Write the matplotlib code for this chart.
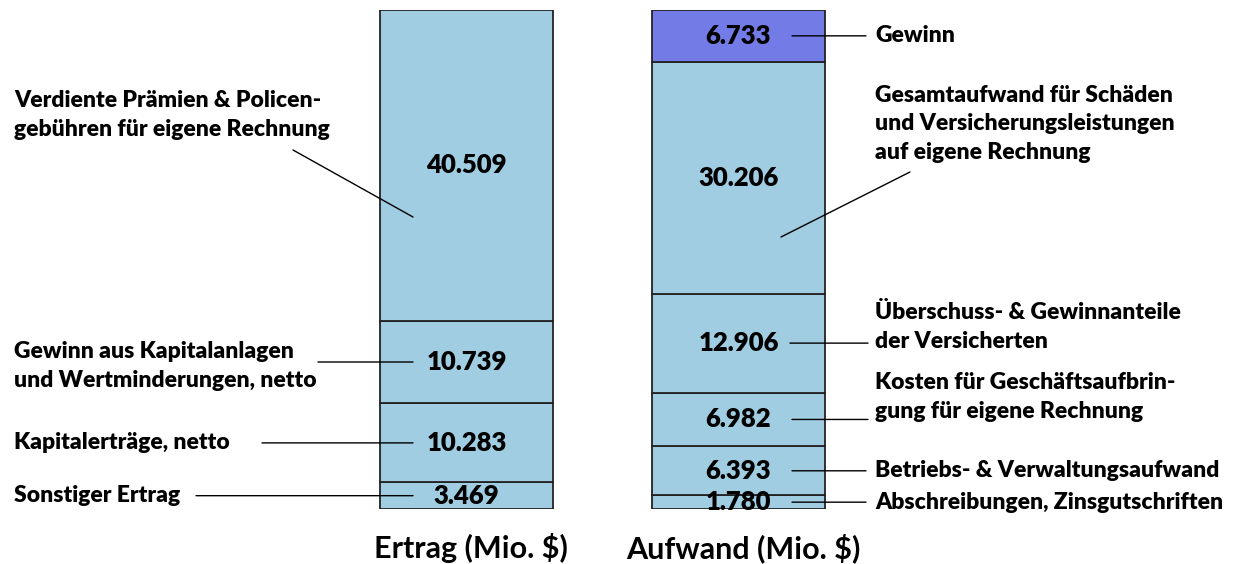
import numpy as np
import matplotlib.pyplot as plt

# Werte (Mio. $), von unten nach oben
ertrag_werte = [3.469, 10.283, 10.739, 40.509]
ertrag_labels = ["Sonstiger Ertrag",
                 "Kapitalerträge, netto",
                 "Gewinn aus Kapitalanlagen\nund Wertminderungen, netto",
                 "Verdiente Prämien & Policen-\ngebühren für eigene Rechnung"]

aufwand_werte = [1.780, 6.393, 6.982, 12.906, 30.206, 6.733]
aufwand_labels = ["Abschreibungen, Zinsgutschriften",
                  "Betriebs- & Verwaltungsaufwand",
                  "Kosten für Geschäftsaufbrin-\ngung für eigene Rechnung",
                  "Überschuss- & Gewinnanteile\nder Versicherten",
                  "Gesamtaufwand für Schäden\nund Versicherungsleistungen\nauf eigene Rechnung",
                  "Gewinn"]

titel = ["Ertrag (Mio. $)", "Aufwand (Mio. $)"]

blau = "#A0CDE2"
lila = "#737BE6"
plt.rcParams['font.family'] = ['Lato', 'DejaVu Sans']

fig = plt.figure(figsize=(12.53, 5.64), dpi=100)
# Achse so, dass 0 auf Pixel 509 und Summe (65) auf Pixel 10 liegt
ax = fig.add_axes([0, 55 / 564, 1, 499 / 564])
total = sum(ertrag_werte)
ax.set_xlim(0, 1253)
ax.set_ylim(0, total)
ax.axis('off')

def pix(py):
    # Pixel-y in Datenwert umrechnen
    return (509 - py) / 499 * total

x_l, x_r, breite = 466.5, 738.5, 173
gew = "heavy"
fs = 16.5
ls = 1.42

# Balken zeichnen
unten = np.concatenate([[0], np.cumsum(ertrag_werte)[:-1]])
ax.bar(x_l, ertrag_werte, breite, bottom=unten, color=blau, edgecolor="#222222", linewidth=1.3)
for v, b in zip(ertrag_werte, unten):
    ax.text(x_l, b + v / 2, f"{v:.3f}", ha="center", va="center", fontsize=18.5, fontweight=gew)

unten2 = np.concatenate([[0], np.cumsum(aufwand_werte)[:-1]])
farben = [blau] * 5 + [lila]
ax.bar(x_r, aufwand_werte, breite, bottom=unten2, color=farben, edgecolor="#222222", linewidth=1.3)
for v, b in zip(aufwand_werte, unten2):
    ax.text(x_r, b + v / 2, f"{v:.3f}", ha="center", va="center", fontsize=18.5, fontweight=gew)

lp = dict(arrowstyle="-", color="black", lw=1, shrinkA=0, shrinkB=0)

# Beschriftungen links
mitte = unten + np.array(ertrag_werte) / 2
ax.annotate("", xy=(413, mitte[0]), xytext=(196, mitte[0]), arrowprops=lp)
ax.text(14, mitte[0], ertrag_labels[0], ha="left", va="center", fontsize=fs, fontweight=gew)
ax.annotate("", xy=(413, mitte[1]), xytext=(262, mitte[1]), arrowprops=lp)
ax.text(14, mitte[1], ertrag_labels[1], ha="left", va="center", fontsize=fs, fontweight=gew)
ax.annotate("", xy=(413, pix(362)), xytext=(318, pix(362)), arrowprops=lp)
ax.text(14, pix(366), ertrag_labels[2], ha="left", va="center", fontsize=fs, fontweight=gew, linespacing=ls)
ax.annotate("", xy=(413, pix(217)), xytext=(293, pix(150)), arrowprops=lp)
ax.text(14, pix(115), ertrag_labels[3], ha="left", va="center", fontsize=fs, fontweight=gew, linespacing=ls)

# Beschriftungen rechts
mitte2 = unten2 + np.array(aufwand_werte) / 2
ax.annotate("", xy=(792, mitte2[0]), xytext=(866, mitte2[0]), arrowprops=lp)
ax.text(875, mitte2[0], aufwand_labels[0], ha="left", va="center", fontsize=fs, fontweight=gew)
ax.annotate("", xy=(792, mitte2[1]), xytext=(866, mitte2[1]), arrowprops=lp)
ax.text(875, mitte2[1], aufwand_labels[1], ha="left", va="center", fontsize=fs, fontweight=gew)
ax.annotate("", xy=(792, mitte2[2]), xytext=(868, mitte2[2]), arrowprops=lp)
ax.text(875, pix(397), aufwand_labels[2], ha="left", va="center", fontsize=fs, fontweight=gew, linespacing=ls)
ax.annotate("", xy=(790, mitte2[3]), xytext=(868, mitte2[3]), arrowprops=lp)
ax.text(875, pix(327), aufwand_labels[3], ha="left", va="center", fontsize=fs, fontweight=gew, linespacing=ls)
ax.annotate("", xy=(781, pix(237)), xytext=(910, pix(172)), arrowprops=lp)
ax.text(875, pix(124), aufwand_labels[4], ha="left", va="center", fontsize=fs, fontweight=gew, linespacing=ls)
ax.annotate("", xy=(792, mitte2[5]), xytext=(866, mitte2[5]), arrowprops=lp)
ax.text(875, mitte2[5], aufwand_labels[5], ha="left", va="center", fontsize=fs, fontweight=gew)

# Titel unter den Balken
ax.text(x_l + 4, pix(548), titel[0], ha="center", va="center", fontsize=22, fontweight="bold", clip_on=False)
ax.text(x_r + 5, pix(548), titel[1], ha="center", va="center", fontsize=22, fontweight="bold", clip_on=False)

plt.savefig("out.png", dpi=100)
